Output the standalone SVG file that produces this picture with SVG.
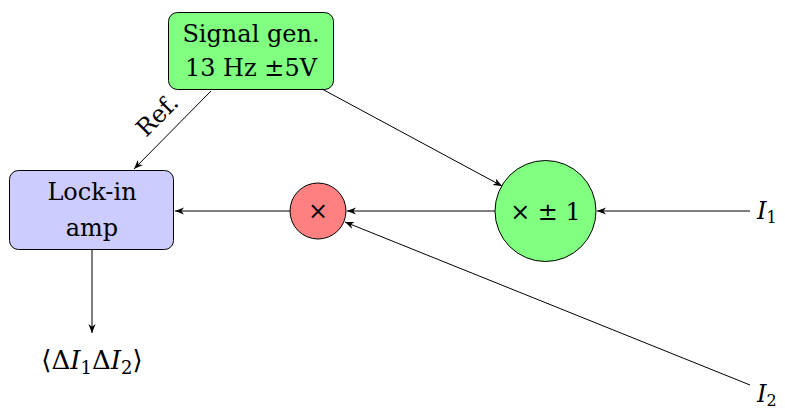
<svg xmlns="http://www.w3.org/2000/svg" width="785" height="411" viewBox="0 0 785 411">
<defs>
<marker id="ah" viewBox="0 0 10 10" refX="10" refY="5" markerWidth="9" markerHeight="9" markerUnits="userSpaceOnUse" orient="auto">
<path d="M0,1 L10,5 L0,9 L3,5 Z" fill="#000"/>
</marker>
</defs>
<style>
.c{text-anchor:middle}
.e{stroke:#000;stroke-width:1;fill:none;marker-end:url(#ah)}
.n{stroke:#000;stroke-width:1}
</style>
<rect width="785" height="411" fill="#fff"/>
<g id="siggen">
<rect class="n" x="168.5" y="12.5" width="165" height="77" rx="9" fill="#80ff80"/>
<text class="c" font-family="DejaVu Serif" font-size="24" x="251" y="42">Signal gen.</text>
<text class="c" font-family="DejaVu Serif" font-size="24" x="251" y="76">13 Hz ±5V</text>
</g>
<g id="lockin">
<rect class="n" x="9.5" y="170.5" width="164" height="79" rx="9" fill="#ccccff"/>
<text class="c" font-family="DejaVu Serif" font-size="24" x="92" y="200">Lock-in</text>
<text class="c" font-family="DejaVu Serif" font-size="24" x="92" y="236">amp</text>
</g>
<g id="mult">
<circle class="n" cx="318" cy="211" r="28" fill="#ff8080"/>
<text class="c" font-family="DejaVu Serif" font-size="24" x="318" y="219">×</text>
</g>
<g id="sign">
<circle class="n" cx="545.5" cy="211" r="50.5" fill="#80ff80"/>
<text class="c" font-family="DejaVu Serif" font-size="24" x="545.5" y="220">× ± 1</text>
</g>
<g id="i1"><text font-family="DejaVu Serif" font-size="24" x="757" y="219" font-style="italic">I<tspan font-style="normal" font-size="16" dy="4">1</tspan></text></g>
<g id="i2"><text font-family="DejaVu Serif" font-size="24" x="757" y="402" font-style="italic">I<tspan font-style="normal" font-size="16" dy="4">2</tspan></text></g>
<g id="out"><text class="c" font-family="DejaVu Serif" font-size="26" x="92" y="369">⟨Δ<tspan font-style="italic">I</tspan><tspan font-size="18" dy="5">1</tspan><tspan dy="-5">Δ</tspan><tspan font-style="italic">I</tspan><tspan font-size="18" dy="5">2</tspan><tspan dy="-5">⟩</tspan></text></g>
<g id="connectors">
<line class="e" x1="750" y1="211" x2="597" y2="211"/>
<line class="e" x1="495" y1="211" x2="347" y2="211"/>
<line class="e" x1="290" y1="211" x2="175" y2="211"/>
<line class="e" x1="322" y1="89" x2="502" y2="186"/>
<line class="e" x1="211" y1="91" x2="134" y2="169"/>
<line class="e" x1="750" y1="385" x2="345" y2="222"/>
<line class="e" x1="92" y1="250" x2="92" y2="333"/>
<text class="c" font-family="DejaVu Serif" font-size="24" x="0" y="0" transform="translate(163,121) rotate(-45)">Ref.</text>
</g>
</svg>
